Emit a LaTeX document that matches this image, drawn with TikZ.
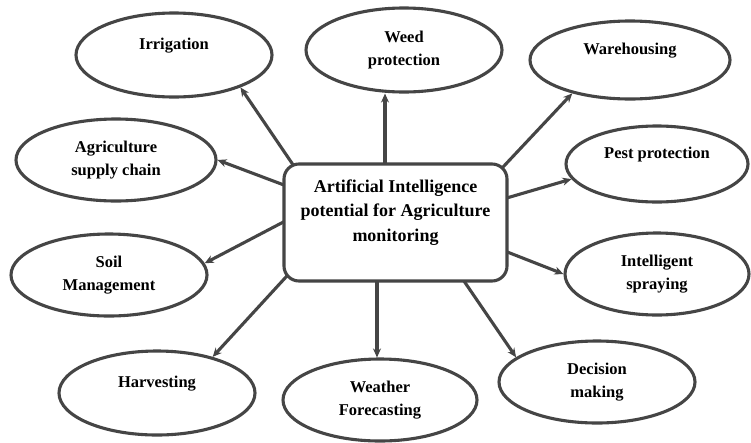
\documentclass[tikz,border=0pt]{standalone}
\usepackage{fontspec}
\setmainfont{Liberation Serif}
\usetikzlibrary{shapes.geometric,arrows.meta,calc,backgrounds}
\definecolor{ink}{HTML}{454545}
\begin{document}
\begin{tikzpicture}[x=1pt,y=-1pt,
  leaf/.style={ellipse,draw=ink,line width=3.1pt,fill=white,inner sep=0pt,
     align=center,font=\fontsize{16.5}{23}\selectfont\bfseries},
  hub/.style={rectangle,rounded corners=15pt,draw=ink,line width=3.1pt,fill=white,
     align=center,minimum width=223pt,minimum height=117pt,
     font=\fontsize{18}{24.5}\selectfont\bfseries},
  arr/.style={draw=ink,line width=3.1pt,-{Stealth[length=9pt,width=8pt]}}]
\useasboundingbox (0,0) rectangle (751,442);

\node[hub] (box) at (395.5,222.5) {Artificial Intelligence\\potential for Agriculture\\monitoring\\~};

\node[leaf,minimum width=196pt,minimum height=84pt] (irr) at (174,55) {Irrigation\\~};
\node[leaf,minimum width=196pt,minimum height=84pt] (weed) at (404,50) {Weed\\protection};
\node[leaf,minimum width=200pt,minimum height=78pt] (ware) at (630,60) {Warehousing\\~};
\node[leaf,minimum width=200pt,minimum height=82pt] (agri) at (116,160) {Agriculture\\supply chain};
\node[leaf,minimum width=182pt,minimum height=76pt] (pest) at (657,164) {Pest protection\\~};
\node[leaf,minimum width=196pt,minimum height=82pt] (soil) at (109,275) {Soil\\Management};
\node[leaf,minimum width=184pt,minimum height=82pt] (spray) at (657,274) {Intelligent\\spraying};
\node[leaf,minimum width=196pt,minimum height=84pt] (harv) at (157,393) {Harvesting\\~};
\node[leaf,minimum width=194pt,minimum height=82pt] (wea) at (380,400) {Weather\\Forecasting};
\node[leaf,minimum width=196pt,minimum height=82pt] (dec) at (597,382) {Decision\\making};

\coordinate (s1) at ($(box.north west)+(9,0)$);
\coordinate (s2) at ($(box.north)+(-10.5,0)$);
\coordinate (s3) at ($(box.north east)+(-5,4)$);
\coordinate (s4) at ($(box.north west)+(0,22)$);
\coordinate (s5) at ($(box.north east)+(0,35)$);
\coordinate (s6) at ($(box.west)+(0,0)$);
\coordinate (s7) at ($(box.east)+(0,30)$);
\coordinate (s8) at ($(box.south west)+(3,-5)$);
\coordinate (s9) at ($(box.south)+(-18.5,0)$);
\coordinate (s10) at ($(box.south)+(69.5,0)$);

\begin{scope}[on background layer]
\fill[white] (0,0) rectangle (751,442);
\draw[arr] ($(s1)!-15pt!(irr.-26)$) -- (irr.-26);
\draw[arr] ($(s2)+(0,15)$) -- (s2 |- weed.south);
\draw[arr] ($(s3)!-15pt!(ware.-150)$) -- (ware.-150);
\draw[arr] ($(s4)!-15pt!(agri.east)$) -- (agri.east);
\draw[arr] ($(s5)!-15pt!(pest.-170)$) -- (pest.-170);
\draw[arr] ($(s6)!-15pt!(soil.7)$) -- (soil.7);
\draw[arr] ($(s7)!-15pt!(spray.west)$) -- (spray.west);
\draw[arr] ($(s8)!-15pt!(harv.33)$) -- (harv.33);
\draw[arr] ($(s9)+(0,-15)$) -- (s9 |- wea.north);
\draw[arr] ($(s10)!-15pt!(dec.163)$) -- (dec.163);
\end{scope}
\end{tikzpicture}
\end{document}
